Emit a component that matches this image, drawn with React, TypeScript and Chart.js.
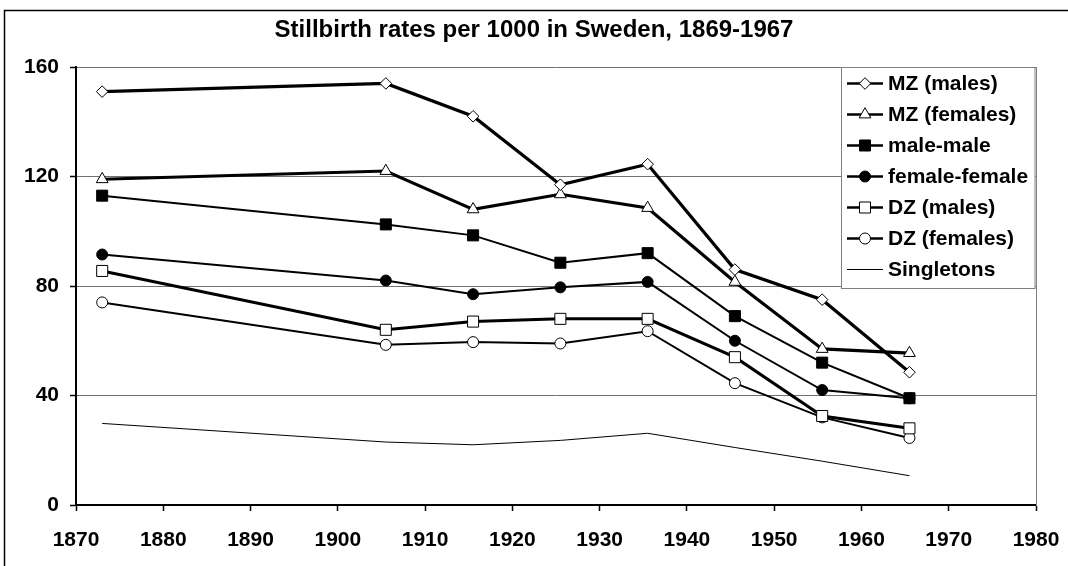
import React, { useEffect, useRef } from 'react';
import { Chart, registerables } from 'chart.js';

Chart.register(...registerables);

const FONT = "'Liberation Sans', Arial, sans-serif";

const chartTitle = 'Stillbirth rates per 1000 in Sweden, 1869-1967';
const years = [1873, 1905.5, 1915.5, 1925.5, 1935.5, 1945.5, 1955.5, 1965.5];
const mzMales = [151, 154, 142, 117, 124.5, 86, 75, 48.5];
const mzFemales = [119, 122, 108, 113.5, 108.5, 81.5, 57, 55.5];
const maleMale = [113, 102.5, 98.5, 88.5, 92, 69, 52, 39];
const femaleFemale = [91.5, 82, 77, 79.5, 81.5, 60, 42, 39];
const dzMales = [85.5, 64, 67, 68, 68, 54, 32.5, 28];
const dzFemales = [74, 58.5, 59.5, 59, 63.5, 44.5, 32, 24.5];
const singletons = [29.8, 23, 22, 23.6, 26.2, 21, 16, 10.7];
const seriesLabels = ['MZ (males)', 'MZ (females)', 'male-male', 'female-female', 'DZ (males)', 'DZ (females)', 'Singletons'];
const xTicksMin = 1870;
const xTicksMax = 1980;
const yTicksMin = 0;
const yTicksMax = 160;

type Marker = { style: string; radius: number; fill: string; lineWidth: number };

const markers: Marker[] = [
  { style: 'rectRot', radius: 5.8, fill: '#ffffff', lineWidth: 3.2 },
  { style: 'triangle', radius: 6.8, fill: '#ffffff', lineWidth: 3.2 },
  { style: 'rect', radius: 7.8, fill: '#000000', lineWidth: 2 },
  { style: 'circle', radius: 5.5, fill: '#000000', lineWidth: 2 },
  { style: 'rect', radius: 7.8, fill: '#ffffff', lineWidth: 3 },
  { style: 'circle', radius: 5.5, fill: '#ffffff', lineWidth: 2 },
  { style: 'none', radius: 0, fill: '#000000', lineWidth: 1 },
];

function drawMarker(ctx: CanvasRenderingContext2D, m: Marker, x: number, y: number) {
  if (m.style === 'none') return;
  ctx.save();
  ctx.fillStyle = m.fill;
  ctx.strokeStyle = '#000';
  ctx.lineWidth = 1;
  ctx.beginPath();
  const r = m.radius;
  if (m.style === 'rectRot') {
    ctx.moveTo(x, y - r);
    ctx.lineTo(x + r, y);
    ctx.lineTo(x, y + r);
    ctx.lineTo(x - r, y);
    ctx.closePath();
  } else if (m.style === 'triangle') {
    const s = r * Math.sqrt(3) / 2;
    ctx.moveTo(x, y - r);
    ctx.lineTo(x + s, y + r / 2);
    ctx.lineTo(x - s, y + r / 2);
    ctx.closePath();
  } else if (m.style === 'rect') {
    const h = r * Math.SQRT1_2;
    ctx.rect(x - h, y - h, 2 * h, 2 * h);
  } else {
    ctx.arc(x, y, r, 0, Math.PI * 2);
  }
  ctx.fill();
  ctx.stroke();
  ctx.restore();
}

const backgroundPlugin = {
  id: 'bgFrame',
  beforeDraw(chart: any) {
    const ctx = chart.ctx as CanvasRenderingContext2D;
    ctx.save();
    ctx.fillStyle = '#ffffff';
    ctx.fillRect(0, 0, chart.width, chart.height);
    ctx.strokeStyle = '#000';
    ctx.lineWidth = 1.5;
    ctx.beginPath();
    ctx.moveTo(4.5, chart.height);
    ctx.lineTo(4.5, 10.5);
    ctx.lineTo(chart.width, 10.5);
    ctx.stroke();
    ctx.restore();
  },
};

const legendPlugin = {
  id: 'boxLegend',
  afterDraw(chart: any) {
    const ctx = chart.ctx as CanvasRenderingContext2D;
    const area = chart.chartArea;
    const left = 841.5;
    const top = area.top + 0.5;
    const right = area.right - 1;
    const bottom = 288.5;
    ctx.save();
    ctx.fillStyle = '#ffffff';
    ctx.fillRect(left, top, right - left, bottom - top);
    ctx.strokeStyle = '#808080';
    ctx.lineWidth = 1;
    ctx.strokeRect(left, top, right - left, bottom - top);
    ctx.font = `bold 21px ${FONT}`;
    ctx.textBaseline = 'middle';
    ctx.textAlign = 'left';
    chart.data.datasets.forEach((ds: any, i: number) => {
      const y = 83.5 + 31 * i;
      const m = markers[i];
      ctx.strokeStyle = '#000';
      ctx.lineWidth = m.lineWidth === 1 ? 1 : 2.5;
      ctx.beginPath();
      ctx.moveTo(847, y);
      ctx.lineTo(883, y);
      ctx.stroke();
      drawMarker(ctx, m, 865, y);
      ctx.fillStyle = '#000';
      ctx.fillText(ds.label, 888, y + 1);
    });
    ctx.restore();
  },
};

export default function App() {
  const ref = useRef<HTMLCanvasElement>(null);
  useEffect(() => {
    if (!ref.current) return;
    const series = [mzMales, mzFemales, maleMale, femaleFemale, dzMales, dzFemales, singletons];
    const datasets = series.map((vals, i) => {
      const m = markers[i];
      return {
        label: seriesLabels[i],
        data: years.map((x, j) => ({ x, y: vals[j] })),
        borderColor: '#000000',
        backgroundColor: m.fill,
        borderWidth: m.lineWidth,
        pointStyle: m.style === 'none' ? 'circle' : m.style,
        pointRadius: m.radius,
        pointHoverRadius: m.radius,
        pointBackgroundColor: m.fill,
        pointBorderColor: '#000000',
        pointBorderWidth: 1,
        tension: 0,
        fill: false,
      };
    });
    const chart = new Chart(ref.current, {
      type: 'line',
      data: { datasets },
      plugins: [backgroundPlugin, legendPlugin],
      options: {
        animation: false,
        responsive: false,
        devicePixelRatio: 1,
        layout: { padding: { left: 0, right: 0, top: 0, bottom: 0 } },
        plugins: {
          legend: { display: false },
          tooltip: { enabled: false },
          title: {
            display: true,
            text: chartTitle,
            color: '#000',
            font: { family: FONT, size: 24, weight: 'bold', lineHeight: 1.2 },
            padding: { top: 15.6, bottom: 22.6 },
          },
        },
        scales: {
          x: {
            type: 'linear',
            min: xTicksMin,
            max: xTicksMax,
            ticks: {
              stepSize: 10,
              color: '#000',
              font: { family: FONT, size: 21, weight: 'bold' },
              padding: 17,
              maxRotation: 0,
              callback: (v: any) => String(v),
            },
            grid: {
              drawOnChartArea: false,
              drawTicks: true,
              tickLength: 6,
              tickColor: '#000',
              tickWidth: 1.5,
            },
            border: { display: true, color: '#000', width: 2 },
            afterFit: (scale: any) => {
              scale.height = 61;
              scale.paddingLeft = 0;
              scale.paddingRight = 0;
            },
          },
          y: {
            type: 'linear',
            position: 'left',
            min: yTicksMin,
            max: yTicksMax,
            ticks: {
              stepSize: 40,
              color: '#000',
              font: { family: FONT, size: 21, weight: 'bold' },
              padding: 11,
            },
            grid: {
              color: (c: any) => (c.tick && c.tick.value === 0 ? 'rgba(0,0,0,0)' : '#707070'),
              lineWidth: 1,
              drawTicks: true,
              tickLength: 6,
              tickColor: '#000',
              tickWidth: 1.5,
            },
            border: { display: true, color: '#000', width: 2 },
            afterFit: (scale: any) => { scale.width = 76; },
          },
          yRight: {
            type: 'linear',
            position: 'right',
            min: yTicksMin,
            max: yTicksMax,
            ticks: { display: false },
            grid: { drawOnChartArea: false, drawTicks: false },
            border: { display: true, color: '#808080', width: 1 },
            afterFit: (scale: any) => { scale.width = 32; },
          },
        },
      },
    });
    return () => chart.destroy();
  }, []);
  return (
    <div style={{ position: 'fixed', left: 0, top: 0, width: 1068, height: 566, background: '#fff' }}>
      <canvas ref={ref} width={1068} height={566} style={{ width: 1068, height: 566, display: 'block' }} />
    </div>
  );
}
